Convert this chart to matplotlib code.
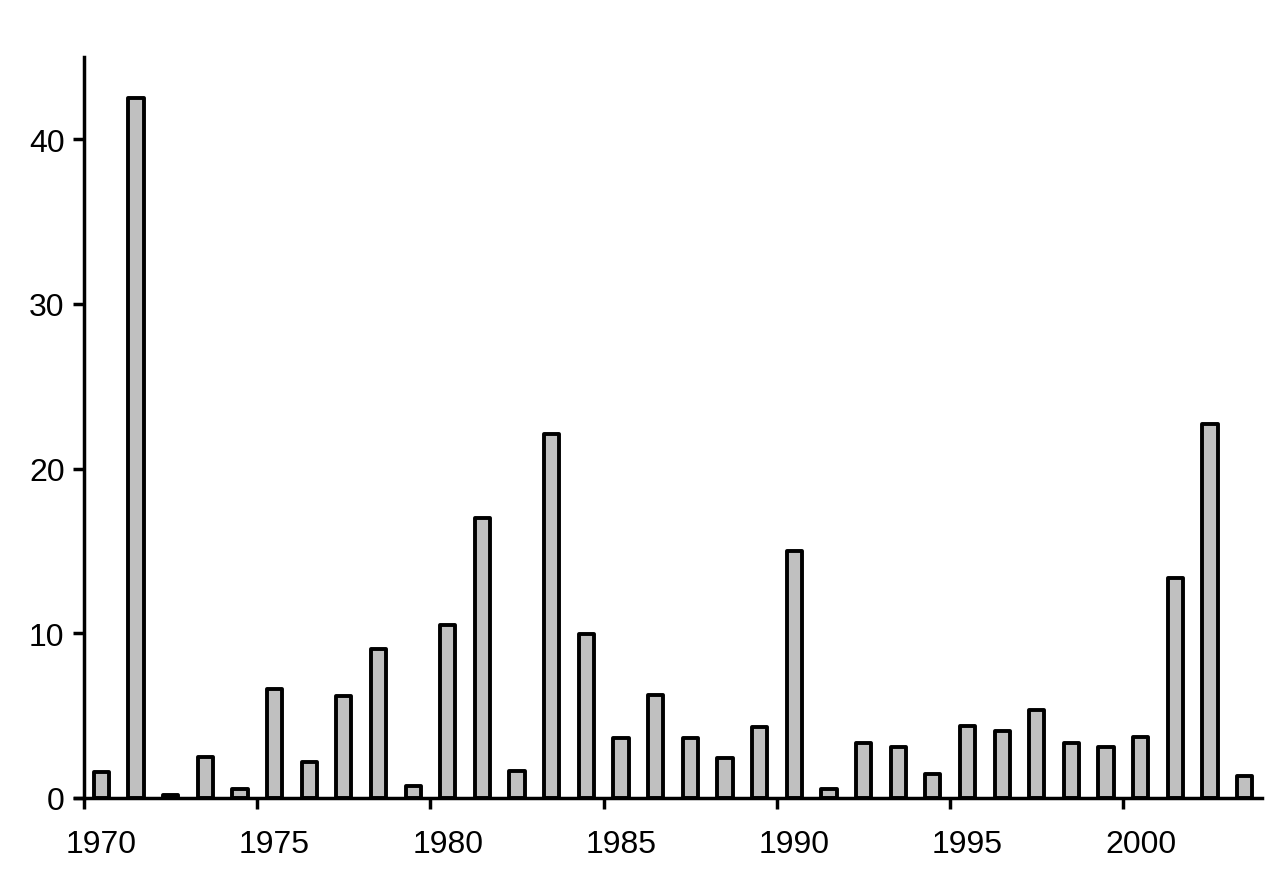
import matplotlib.pyplot as plt
import numpy as np

plt.rcParams['font.family'] = ['Liberation Sans', 'DejaVu Sans']

years = np.arange(1970, 2004)
values = [1.6, 42.5, 0.2, 2.5, 0.55, 6.6, 2.2, 6.2, 9.05, 0.75,
          10.5, 17.0, 1.65, 22.1, 9.95, 3.65, 6.25, 3.65, 2.45, 4.3,
          15.0, 0.55, 3.35, 3.1, 1.45, 4.35, 4.05, 5.35, 3.35, 3.1,
          3.7, 13.35, 22.7, 1.35]
xticks = [1970, 1975, 1980, 1985, 1990, 1995, 2000]
yticks = [0, 10, 20, 30, 40]

fig = plt.figure(figsize=(12.81, 8.79), dpi=100)
ax = fig.add_axes([84 / 1281, 80 / 879, 1178 / 1281, 741 / 879])

ax.bar(years + 0.5, values, width=0.44, color='#c0c0c0', edgecolor='black',
       linewidth=2.8, joinstyle='round')

ax.set_xlim(1970, 2004)
ax.set_ylim(0, 45)

# ticks sit on the year, labels sit in the middle of the year slot
ax.set_xticks(xticks)
ax.set_xticklabels([])
ax.set_xticks([x + 0.5 for x in xticks], minor=True)
ax.set_xticklabels([str(x) for x in xticks], minor=True)
ax.tick_params(axis='x', which='minor', length=0, labelsize=23, pad=22)
ax.tick_params(axis='x', which='major', width=2.5, length=8, direction='out')

ax.set_yticks(yticks)
ax.tick_params(axis='y', width=2.5, length=8, labelsize=23, pad=6, direction='out')

for s in ['top', 'right']:
    ax.spines[s].set_visible(False)
for s in ['left', 'bottom']:
    ax.spines[s].set_linewidth(2.5)
ax.spines['bottom'].set_bounds(1969.75, 2004)

fig.savefig('out.png', dpi=100)
